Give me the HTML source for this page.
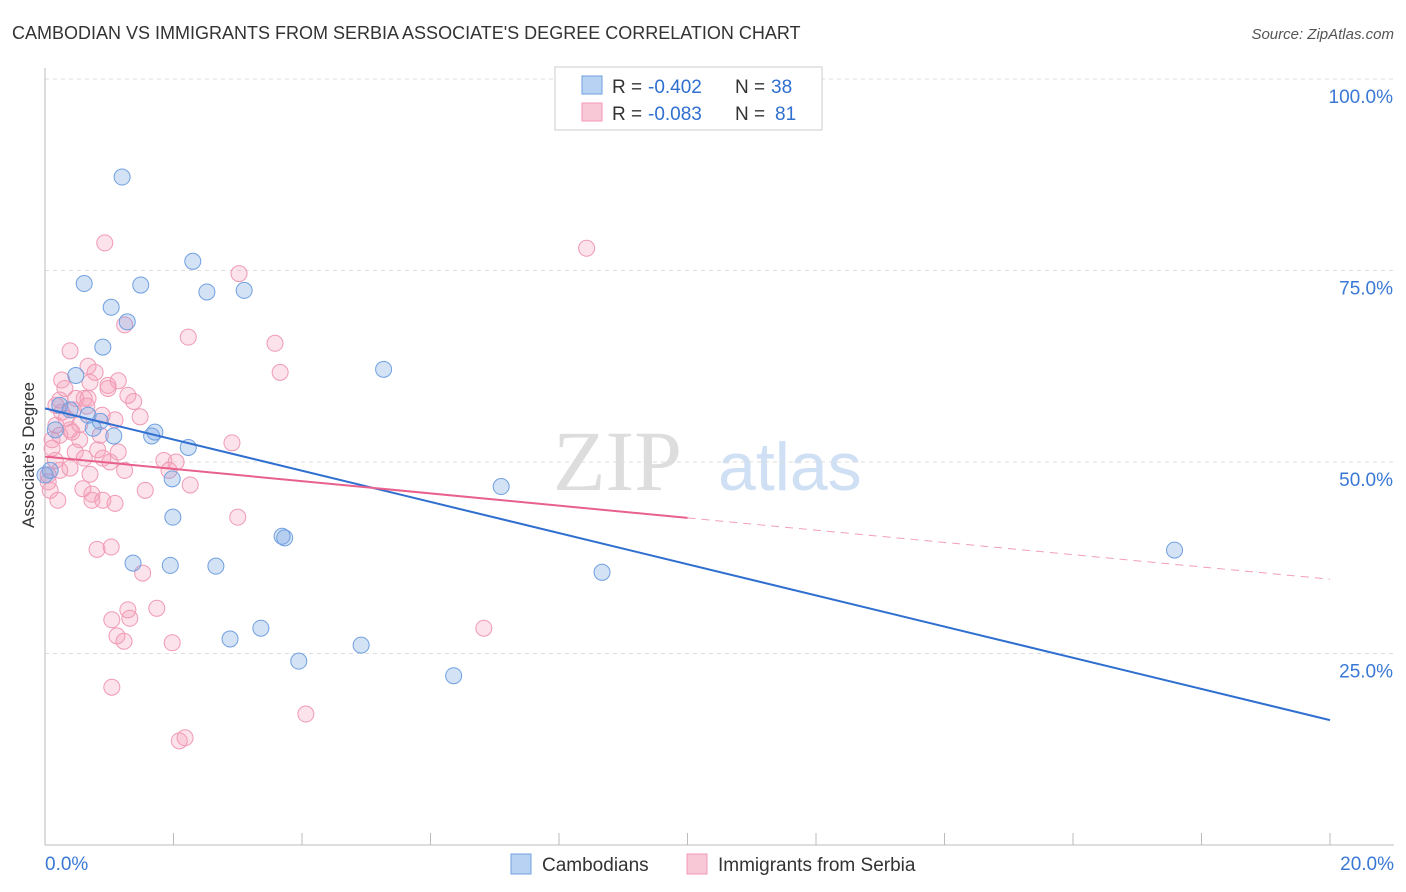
<!DOCTYPE html>
<html><head><meta charset="utf-8"><style>
body{margin:0;background:#fff;font-family:"Liberation Sans",sans-serif}
svg{display:block}
</style></head><body>
<svg id="c" width="1406" height="892" xmlns="http://www.w3.org/2000/svg">
<text x="12" y="39" font-size="18" fill="#333">CAMBODIAN VS IMMIGRANTS FROM SERBIA ASSOCIATE'S DEGREE CORRELATION CHART</text>
<text x="1394" y="39" font-size="15" fill="#555" font-style="italic" text-anchor="end">Source: ZipAtlas.com</text>
<g><text x="553" y="490" font-size="86" fill="#ddd" font-family="Liberation Serif,serif">ZIP</text><text x="718" y="490" font-size="68" fill="#cfe0f5">atlas</text></g>
<g id="grid"></g>
<g id="axes"></g>
<g id="pts"></g>
<g id="trend"></g>
<text transform="translate(34,455) rotate(-90)" font-size="17" fill="#333" text-anchor="middle">Associate's Degree</text>
<g>
<rect x="555" y="67" width="267" height="63" fill="#fff" stroke="#ccc"/>
<rect x="582" y="76" width="20" height="18" fill="#b8d2f3" stroke="#6fa0e0"/>
<rect x="582" y="103" width="20" height="18" fill="#f9c8d6" stroke="#f09ab4"/>
<text y="93" font-size="19" fill="#333"><tspan x="612">R =</tspan><tspan x="648" fill="#2f6fd0">-0.402</tspan><tspan x="735">N =</tspan><tspan x="771" fill="#2f6fd0">38</tspan></text>
<text y="120" font-size="19" fill="#333"><tspan x="612">R =</tspan><tspan x="648" fill="#2f6fd0">-0.083</tspan><tspan x="735">N =</tspan><tspan x="775" fill="#2f6fd0">81</tspan></text>
</g>
<g>
<rect x="511" y="854" width="20" height="20" fill="#b8d2f3" stroke="#6fa0e0"/>
<text x="542" y="871" font-size="19" fill="#333">Cambodians</text>
<rect x="687" y="854" width="20" height="20" fill="#f9c8d6" stroke="#f09ab4"/>
<text x="718" y="871" font-size="19" fill="#333">Immigrants from Serbia</text>
</g>
</svg>
<script>
const yTicks=[100,75,50,25];
const yTickLabels=["100.0%","75.0%","50.0%","25.0%"];
const xTickLabels=["0.0%","20.0%"];
const blueX=[1.20,0.61,1.49,2.30,2.52,3.10,1.03,1.28,0.90,0.48,5.27,0.23,0.67,0.86,0.75,1.07,1.66,1.71,2.23,1.98,1.99,7.10,17.58,3.69,3.73,1.37,1.95,2.66,8.67,3.36,2.88,3.95,4.92,6.36,0.0,0.08,0.16,0.39];
const blueY=[87.2,73.3,73.1,76.2,72.2,72.4,70.2,68.3,65.0,61.3,62.1,57.4,56.1,55.3,54.4,53.4,53.4,53.9,51.9,47.8,42.8,46.8,38.5,40.3,40.1,36.8,36.5,36.4,35.6,28.3,26.9,24.0,26.1,22.1,48.3,48.9,54.2,56.8];
const pinkX=[0.93,8.43,3.02,2.23,1.24,3.58,3.66,0.39,0.67,0.78,0.98,1.14,0.31,0.98,0.23,0.48,0.61,1.38,0.67,0.89,1.48,1.09,0.17,0.23,0.39,0.54,0.11,0.47,0.82,0.61,0.90,1.01,0.70,0.39,0.16,0.05,0.08,0.59,0.73,1.56,2.26,1.85,2.04,1.93,2.91,0.73,0.90,1.09,0.81,1.03,1.52,1.29,1.74,1.04,1.32,1.12,1.23,1.98,6.83,1.04,4.06,2.09,2.18,3.00,0.05,0.26,0.17,0.33,0.42,0.86,0.54,0.23,0.20,0.11,1.29,0.65,1.14,0.26,0.44,0.70,1.24];
const pinkY=[78.6,77.9,74.6,66.3,67.9,65.5,61.7,64.5,62.5,61.7,59.6,60.6,59.6,60.0,58.1,58.3,58.3,57.9,58.3,56.1,55.9,55.5,54.8,53.5,54.2,52.9,51.8,51.3,51.6,50.5,50.5,50.0,48.4,49.2,50.2,48.3,46.3,46.5,45.8,46.3,47.0,50.2,50.0,48.9,52.5,45.0,45.0,44.6,38.6,38.9,35.5,30.7,30.9,29.4,29.6,27.3,26.6,26.4,28.3,20.6,17.1,13.6,14.0,42.8,47.4,56.5,57.4,55.7,53.9,53.5,54.9,48.9,45.0,52.9,58.7,57.3,51.3,60.7,56.8,60.4,48.9];
const blueTrend=[57.0,16.3];
const pinkTrend=[50.7,42.7,34.7];
const NS="http://www.w3.org/2000/svg";
const X=v=>45+v/20*1285, Y=v=>845-v/100*766;
function mk(t,a,p){const e=document.createElementNS(NS,t);for(const k in a)e.setAttribute(k,a[k]);p.appendChild(e);return e;}
const grid=document.getElementById('grid'),axes=document.getElementById('axes'),pts=document.getElementById('pts'),tr=document.getElementById('trend');
yTicks.forEach((t,i)=>{
 const l=mk('line',{x1:45,x2:1394,y1:Y(t),y2:Y(t),stroke:'#ddd','stroke-dasharray':'4,4'},grid);
 
 
 const tx=mk('text',{x:1393,y:Y(t)+24,'font-size':19,fill:'#3a78d6','text-anchor':'end'},axes);
 tx.textContent=yTickLabels[i];
 
 
});
mk('line',{x1:45,x2:45,y1:68,y2:845,stroke:'#bbb'},axes);
mk('line',{x1:45,x2:1394,y1:845,y2:845,stroke:'#bbb'},axes);
for(let i=0;i<=10;i++){const t=mk('line',{x1:X(i*2),x2:X(i*2),y1:845,y2:833,stroke:'#bbb'},axes);}
[[0,'start',45],[1,'end',1394]].forEach(([i,a,x])=>{const t=mk('text',{x:x,y:870,'font-size':19,fill:'#3a78d6','text-anchor':a},axes);t.textContent=xTickLabels[i];});
pinkX.forEach((v,i)=>{const c=mk('circle',{cx:X(v),cy:Y(pinkY[i]),r:8,fill:'rgba(244,160,184,0.3)',stroke:'#f09ab4','stroke-width':1},pts);});
blueX.forEach((v,i)=>{const c=mk('circle',{cx:X(v),cy:Y(blueY[i]),r:8,fill:'rgba(111,160,224,0.3)',stroke:'#6fa0e0','stroke-width':1},pts);});
let l=mk('line',{x1:X(0),y1:Y(blueTrend[0]),x2:X(20),y2:Y(blueTrend[1]),stroke:'#2f6fd0','stroke-width':2},tr);

l=mk('line',{x1:X(0),y1:Y(pinkTrend[0]),x2:X(10),y2:Y(pinkTrend[1]),stroke:'#e8608c','stroke-width':2},tr);

l=mk('line',{x1:X(10),y1:Y(pinkTrend[1]),x2:X(20),y2:Y(pinkTrend[2]),stroke:'#e8608c','stroke-width':1,'stroke-dasharray':'8,6',opacity:0.6},tr);

</script>
</body></html>
